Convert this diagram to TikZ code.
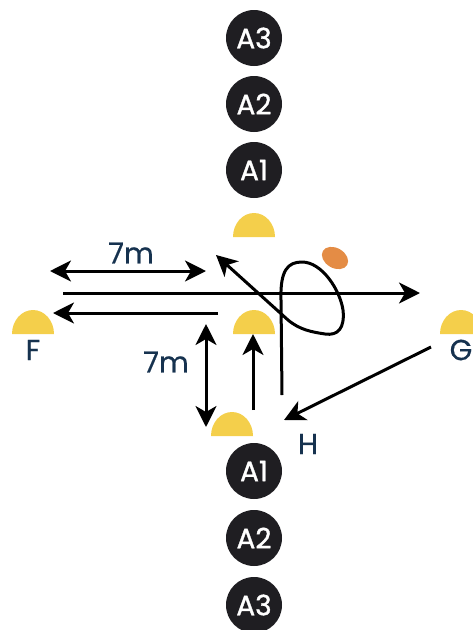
\documentclass[tikz,border=0pt]{standalone}
\usepackage{fontspec}
\setmainfont{Poppins}
\newfontfamily\boldish{Poppins}[FakeBold=1.2]
\newfontfamily\mediumish{Poppins}[FakeBold=0.5]
\usetikzlibrary{arrows.meta}
\definecolor{cone}{HTML}{F4CF4B}
\definecolor{disc}{HTML}{1F1E22}
\definecolor{navy}{HTML}{16324F}
\definecolor{ball}{HTML}{E48C45}
\tikzset{
  player/.style={circle,fill=disc,minimum size=56,inner sep=0,text=white,font=\boldish\fontsize{28}{28}\selectfont},
  lbl/.style={text=navy,font=\mediumish\fontsize{29}{29}\selectfont,inner sep=0},
  arr/.style={line width=3,-{Stealth[length=21pt,width=21pt,inset=6pt]}},
  darr/.style={line width=3,{Stealth[length=21pt,width=21pt,inset=6pt]}-{Stealth[length=21pt,width=21pt,inset=6pt]}},
  halfdisc/.pic={\fill[cone] (-21,0) arc[start angle=180,end angle=360,x radius=21,y radius=24] -- cycle;}
}
\begin{document}
\begin{tikzpicture}[x=1pt,y=-1pt]
\path[use as bounding box] (0,0) rectangle (472,630);
% players
\node[player] (t3) at (254,38) {A3};
\node[player] (t2) at (254,104) {A2};
\node[player] (t1) at (254,170) {A1};
\node[player] (b1) at (254,471) {A1};
\node[player] (b2) at (254,538) {A2};
\node[player] (b3) at (254,605) {A3};
% cones
\pic at (254,237) {halfdisc};
\pic at (254,334) {halfdisc};
\pic at (232,436) {halfdisc};
\pic at (33,334) {halfdisc};
\pic at (461,334) {halfdisc};
% ball
\fill[ball,rotate around={-30:(335,258)}] (335,258) ellipse[x radius=14,y radius=10];
% labels
\node[lbl] (F) at (33,350) {F};
\node[lbl] (G) at (461,350) {G};
\node[lbl] (H) at (308,444) {H};
\node[lbl] (m1) at (131,253) {7m};
\node[lbl] (m2) at (166,362) {7m};
% coordinates
\coordinate (d1a) at (50,271);
\coordinate (d1b) at (206,271);
\coordinate (l1a) at (63,293);
\coordinate (l1b) at (420,293);
\coordinate (l2a) at (218,313);
\coordinate (l2b) at (53,313);
\coordinate (v1a) at (206,324);
\coordinate (v1b) at (206,427);
\coordinate (u1a) at (253,410);
\coordinate (u1b) at (253,334);
\coordinate (ga) at (431,347);
\coordinate (gb) at (284,420);
\coordinate (ca) at (282,395);
\coordinate (cb) at (216,255);
% arrows
\draw[darr] (d1a) -- (d1b);
\draw[arr] (l1a) -- (l1b);
\draw[arr] (l2a) -- (l2b);
\draw[darr] (v1a) -- (v1b);
\draw[arr] (u1a) -- (u1b);
\draw[arr] (ga) -- (gb);
\draw[arr] (ca) -- (281,300) .. controls (280,270) and (288,262) .. (302,262)
  .. controls (322,262) and (340,290) .. (343,310)
  .. controls (345,328) and (338,336) .. (325,334)
  .. controls (312,332) and (300,330) .. (288,320) -- (cb);
\end{tikzpicture}
\end{document}
